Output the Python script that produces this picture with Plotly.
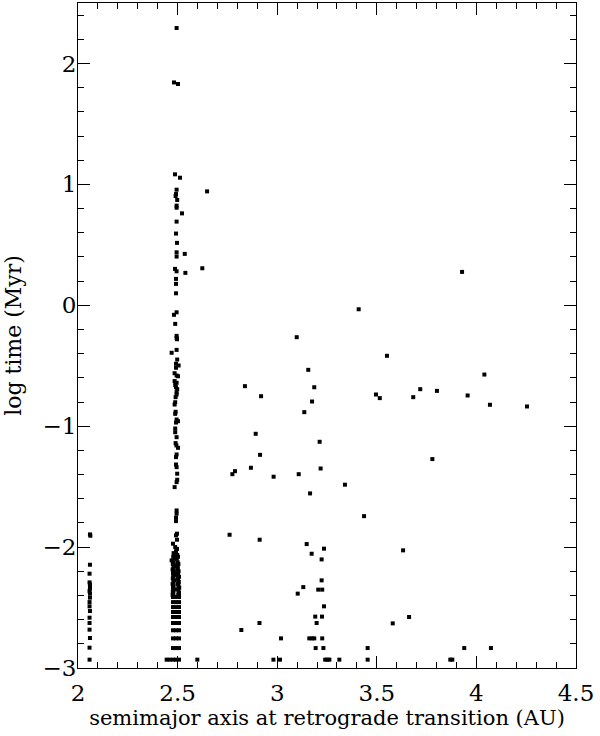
import plotly.graph_objects as go

# inner column near 2.06 AU
inner_a = [2.060, 2.062, 2.060, 2.058, 2.058, 2.060, 2.060, 2.060, 2.058, 2.060,
           2.060, 2.058, 2.058, 2.060, 2.058, 2.058, 2.058, 2.060, 2.058, 2.058]
inner_logt = [-1.895, -1.906, -2.146, -2.220, -2.292, -2.309, -2.326, -2.344, -2.364, -2.385,
              -2.418, -2.455, -2.490, -2.529, -2.584, -2.628, -2.683, -2.752, -2.832, -2.931]

# main column near 2.5 AU, upper part
main_a = [2.495, 2.482, 2.502, 2.487, 2.512, 2.495, 2.492, 2.490, 2.498, 2.495,
          2.495, 2.522, 2.495, 2.492, 2.497, 2.495, 2.536, 2.495, 2.487, 2.495,
          2.539, 2.492, 2.492, 2.492, 2.495, 2.482, 2.488, 2.495, 2.495, 2.497,
          2.495, 2.470, 2.498, 2.492, 2.505, 2.492, 2.485, 2.495, 2.502, 2.485,
          2.495, 2.488, 2.492, 2.498, 2.495, 2.495, 2.490, 2.488, 2.485, 2.490,
          2.488, 2.495, 2.502, 2.492, 2.488, 2.488, 2.495, 2.490, 2.494, 2.502,
          2.495, 2.492, 2.492, 2.495, 2.498, 2.498, 2.495, 2.485]
main_logt = [2.293, 1.843, 1.830, 1.083, 1.055, 0.956, 0.920, 0.904, 0.871, 0.824,
             0.807, 0.760, 0.692, 0.593, 0.516, 0.438, 0.425, 0.403, 0.301, 0.281,
             0.268, 0.218, 0.177, 0.099, -0.058, -0.079, -0.154, -0.253, -0.270, -0.281,
             -0.369, -0.393, -0.449, -0.484, -0.498, -0.517, -0.562, -0.581, -0.587, -0.627,
             -0.641, -0.659, -0.678, -0.694, -0.719, -0.738, -0.760, -0.802, -0.821, -0.881,
             -0.898, -0.945, -0.959, -0.970, -1.019, -1.050, -1.091, -1.140, -1.159, -1.179,
             -1.234, -1.256, -1.317, -1.339, -1.393, -1.443, -1.463, -1.504]

# main column, lower part (incl. the dense clump)
low_a = [2.495, 2.495, 2.492, 2.492, 2.497, 2.492, 2.497, 2.477, 2.488, 2.497,
         2.492, 2.480, 2.470,
         2.482, 2.498, 2.478, 2.502, 2.485, 2.496, 2.480, 2.500, 2.476, 2.504,
         2.483, 2.497, 2.479, 2.501, 2.475, 2.499, 2.481, 2.505, 2.477, 2.498,
         2.484, 2.502, 2.478, 2.507, 2.476, 2.500, 2.482, 2.503, 2.479, 2.506,
         2.475, 2.501, 2.480, 2.504, 2.477, 2.508, 2.483, 2.502, 2.476, 2.505,
         2.479, 2.507, 2.475, 2.503]
low_logt = [-1.697, -1.724, -1.757, -1.785, -1.889, -1.903, -1.939, -1.972, -2.000, -2.015,
            -2.035, -2.050, -2.110,
            -2.065, -2.065, -2.080, -2.080, -2.095, -2.095, -2.125, -2.125, -2.140, -2.140,
            -2.155, -2.155, -2.170, -2.170, -2.185, -2.185, -2.200, -2.200, -2.215, -2.215,
            -2.230, -2.230, -2.245, -2.245, -2.260, -2.260, -2.275, -2.275, -2.290, -2.290,
            -2.305, -2.305, -2.320, -2.320, -2.335, -2.335, -2.350, -2.350, -2.365, -2.365,
            -2.380, -2.380, -2.395, -2.395]

# quantised output levels forming short dashes at 2.5 AU
dash_a = [2.477, 2.492, 2.507, 2.477, 2.492, 2.507, 2.477, 2.492, 2.507,
          2.477, 2.492, 2.507, 2.477, 2.492, 2.507, 2.477, 2.492, 2.507,
          2.477, 2.492, 2.507, 2.477, 2.492, 2.507, 2.477, 2.492, 2.507,
          2.445, 2.460, 2.477, 2.492, 2.507]
dash_logt = [-2.413, -2.413, -2.413, -2.455, -2.455, -2.455, -2.496, -2.496, -2.496,
             -2.537, -2.537, -2.537, -2.578, -2.578, -2.578, -2.628, -2.628, -2.628,
             -2.688, -2.688, -2.688, -2.755, -2.755, -2.755, -2.835, -2.835, -2.835,
             -2.931, -2.931, -2.931, -2.931, -2.931]

# scattered transitions beyond 2.5 AU
outer_a = [2.599, 2.624, 2.648,
           3.098, 3.156, 2.838, 3.186, 2.919, 3.175, 3.136, 2.892, 3.213, 2.914,
           2.868, 2.788, 2.775, 2.982, 3.108, 3.218, 3.340, 3.165, 2.761, 2.912,
           3.148, 3.235, 3.173, 3.223, 3.223, 3.131, 3.206, 3.226, 3.103, 3.235,
           3.191, 3.225, 3.198, 2.911, 2.820, 3.019, 3.161, 3.175, 3.186, 3.226,
           3.193, 3.232, 2.981, 3.014, 3.241, 3.252, 3.262, 3.312,
           3.928, 3.409, 3.551, 4.040, 3.496, 3.515, 3.683, 3.718, 3.802, 3.956,
           4.068, 4.254, 3.779, 3.436, 3.632, 3.662, 3.580, 3.454, 3.939, 4.073,
           3.454, 3.869, 3.879]
outer_logt = [-2.931, 0.306, 0.942,
              -0.264, -0.534, -0.669, -0.678, -0.752, -0.796, -0.884, -1.063, -1.129, -1.237,
              -1.344, -1.372, -1.397, -1.418, -1.397, -1.350, -1.484, -1.556, -1.898, -1.939,
              -1.975, -2.013, -2.055, -2.102, -2.275, -2.331, -2.352, -2.352, -2.385, -2.490,
              -2.575, -2.575, -2.628, -2.628, -2.686, -2.755, -2.755, -2.755, -2.755, -2.755,
              -2.835, -2.835, -2.931, -2.931, -2.931, -2.931, -2.931, -2.931,
              0.276, -0.033, -0.418, -0.573, -0.738, -0.768, -0.760, -0.694, -0.708, -0.746,
              -0.823, -0.837, -1.272, -1.744, -2.027, -2.578, -2.631, -2.835, -2.835, -2.835,
              -2.931, -2.931, -2.931]

FONT = "DejaVu Serif"
mk = dict(symbol="square", size=4, color="black", line=dict(width=0))

fig = go.Figure()
for xs, ys in [(inner_a, inner_logt), (main_a, main_logt), (low_a, low_logt),
               (dash_a, dash_logt), (outer_a, outer_logt)]:
    fig.add_trace(go.Scatter(x=xs, y=ys, mode="markers", marker=mk,
                             showlegend=False, hoverinfo="x+y"))

axis_common = dict(showline=True, linecolor="black", linewidth=1, mirror="ticks",
                   ticks="inside", tickcolor="black", tickwidth=1, ticklen=12,
                   showgrid=False, zeroline=False, automargin=False,
                   tickfont=dict(family=FONT, size=23, color="black"))

fig.update_xaxes(range=[2, 4.5], dtick=0.5, tick0=2,
                 minor=dict(dtick=0.1, ticks="inside", ticklen=6, tickcolor="black"),
                 ticklabelstandoff=4,
                 title=dict(text="semimajor axis at retrograde transition (AU)",
                            font=dict(family=FONT, size=21, color="black"), standoff=0),
                 **axis_common)
fig.update_yaxes(range=[-3, 2.5], dtick=1, tick0=0,
                 minor=dict(dtick=0.2, ticks="inside", ticklen=6, tickcolor="black"),
                 tickformat="d", ticklabelstandoff=-4,
                 title=dict(text="log time (Myr)",
                            font=dict(family=FONT, size=22, color="black"), standoff=14),
                 **axis_common)

fig.update_layout(width=600, height=736,
                  margin=dict(l=78, r=24, t=3, b=68),
                  plot_bgcolor="white", paper_bgcolor="white",
                  font=dict(family=FONT, color="black"))

# drop the page's default 8px body margin so the figure sits at the window corner
fig.write_html("out.html", config={"displayModeBar": False},
               post_script="document.body.style.margin='0';")
